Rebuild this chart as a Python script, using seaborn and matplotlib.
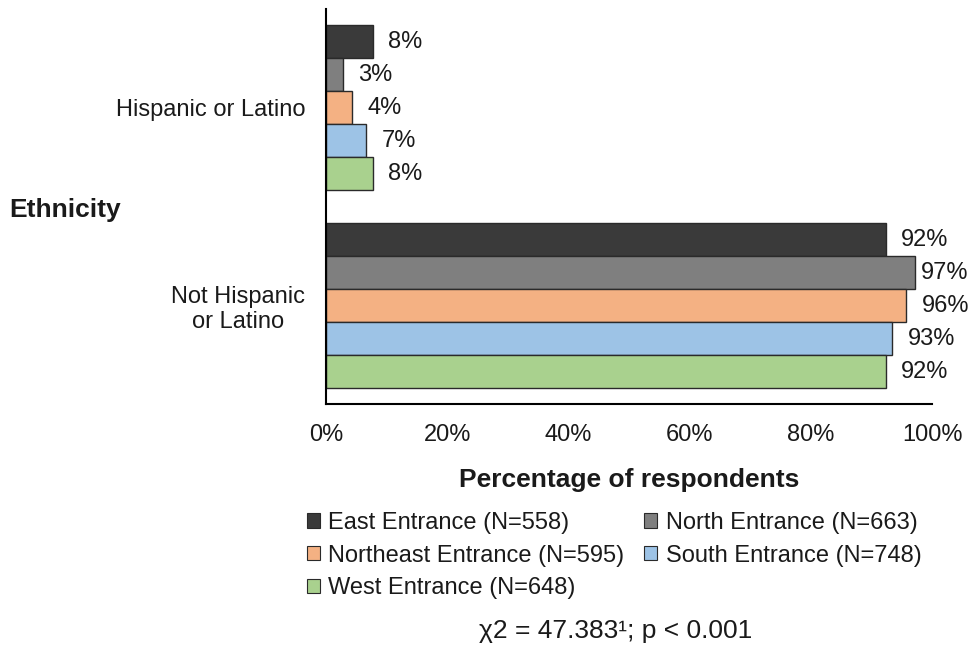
import matplotlib
matplotlib.use("Agg")
import matplotlib.pyplot as plt
import seaborn as sns
import pandas as pd
from matplotlib.patches import Patch

ethnicities = ["Hispanic or Latino", "Not Hispanic\nor Latino"]
entrances = ["East Entrance (N=558)", "North Entrance (N=663)",
             "Northeast Entrance (N=595)", "South Entrance (N=748)",
             "West Entrance (N=648)"]
hispanic = [7.7, 2.8, 4.3, 6.6, 7.7]
not_hispanic = [92.3, 97.2, 95.7, 93.4, 92.3]
colors = ["#3a3a3a", "#7f7f7f", "#f4b183", "#9dc3e6", "#a9d18e"]
xticks = [0, 20, 40, 60, 80, 100]

rows = []
for ent, h, n in zip(entrances, hispanic, not_hispanic):
    rows.append({"Ethnicity": ethnicities[0], "Entrance": ent, "Pct": h})
    rows.append({"Ethnicity": ethnicities[1], "Entrance": ent, "Pct": n})
df = pd.DataFrame(rows)

sns.set_theme(style="white")
plt.rcParams["font.family"] = ["Liberation Sans", "DejaVu Sans"]

fig = plt.figure(figsize=(9.71, 6.48), dpi=100)
ax = fig.add_axes([0.336, 0.376, 0.624, 0.61])

sns.barplot(data=df, y="Ethnicity", x="Pct", hue="Entrance",
            order=ethnicities, hue_order=entrances, palette=colors,
            saturation=1, orient="h", width=0.835, edgecolor="#2a2a2a",
            linewidth=1.0, ax=ax, legend=False)

for cont in ax.containers:
    anns = ax.bar_label(cont, labels=[f"{round(v)}%" for v in cont.datavalues],
                        padding=11, fontsize=17, color="#1a1a1a")
    for ann, v in zip(anns, cont.datavalues):
        if v > 96.5:
            ann.xyann = (4, 0)

ax.set_xlim(0, 100)
ax.set_ylim(1.5, -0.5)
ax.set_xticks(xticks)
ax.set_xticklabels([f"{t}%" for t in xticks], fontsize=17, color="#1a1a1a")
ax.tick_params(axis="x", direction="out", length=6, width=1.3, color="black", pad=8)
ax.tick_params(axis="y", length=0, labelsize=17, labelcolor="#1a1a1a", pad=15)
for lbl in ax.get_yticklabels():
    lbl.set_multialignment("center")
ax.set_ylabel("")
ax.set_xlabel("Percentage of respondents", fontsize=19, fontweight="bold",
              labelpad=16, color="#1a1a1a")
for s in ["top", "right"]:
    ax.spines[s].set_visible(False)
for s in ["left", "bottom"]:
    ax.spines[s].set_color("black")
    ax.spines[s].set_linewidth(1.5)

fig.text(0.010, 0.676, "Ethnicity", fontsize=19, fontweight="bold",
         ha="left", va="center", color="#1a1a1a")

handles = [Patch(facecolor=c, edgecolor="#2a2a2a", linewidth=0.8) for c in colors]
order = [0, 2, 4, 1, 3]
leg = fig.legend([handles[i] for i in order], [entrances[i] for i in order],
                 ncol=2, loc="upper left", bbox_to_anchor=(0.316, 0.210),
                 frameon=False, fontsize=17, handlelength=0.55, handleheight=0.55,
                 handletextpad=0.35, columnspacing=0.85, labelspacing=0.45,
                 borderaxespad=0, borderpad=0)
for t in leg.get_texts():
    t.set_color("#1a1a1a")

fig.text(0.634, 0.027, "χ2 = 47.383¹; p < 0.001", fontsize=19,
         ha="center", va="center", color="#1a1a1a")

fig.savefig("out.png", dpi=100)
